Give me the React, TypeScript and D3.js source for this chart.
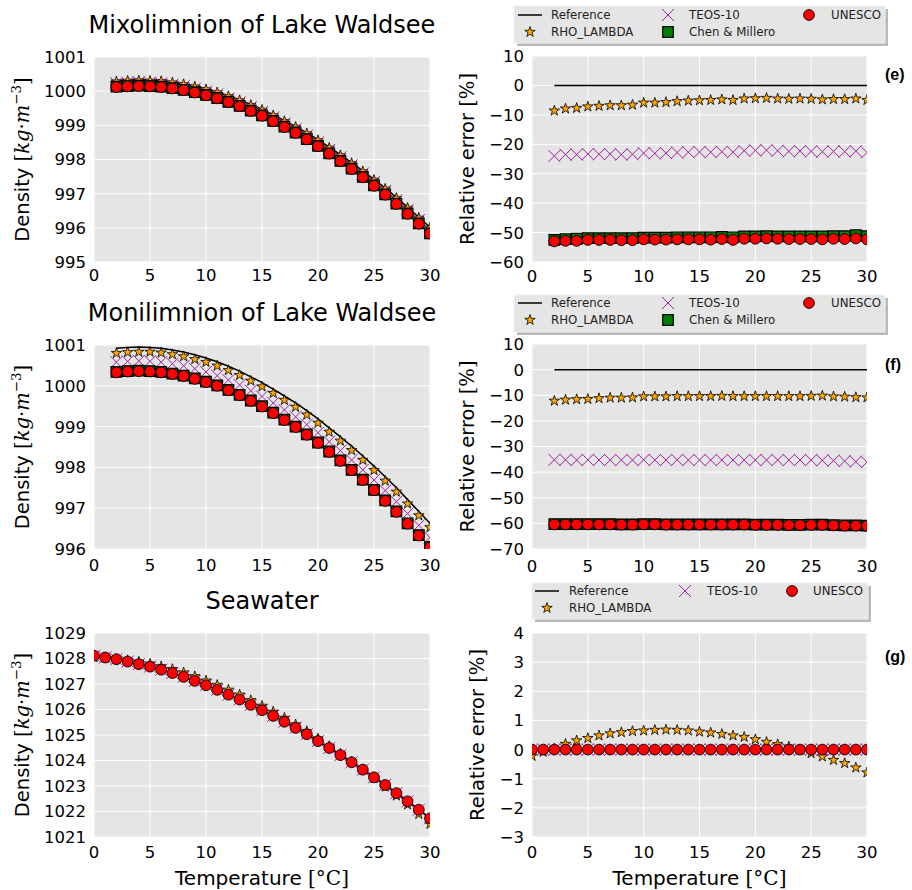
import { useEffect, useRef } from "react"
import * as d3 from "d3"

// temperatures [°C]
const TEMP_LAKE = [2, 3, 4, 5, 6, 7, 8, 9, 10, 11, 12, 13, 14, 15, 16, 17, 18, 19, 20, 21, 22, 23, 24, 25, 26, 27, 28, 29, 30]
const TEMP_SEA = [0, 1, 2, 3, 4, 5, 6, 7, 8, 9, 10, 11, 12, 13, 14, 15, 16, 17, 18, 19, 20, 21, 22, 23, 24, 25, 26, 27, 28, 29, 30]

// Mixolimnion densities [kg/m3]
const MIXO_REF = [1000.31, 1000.33, 1000.34, 1000.33, 1000.31, 1000.27, 1000.22, 1000.15, 1000.07, 999.98, 999.87, 999.75, 999.61, 999.47, 999.31, 999.14, 998.97, 998.78, 998.58, 998.36, 998.14, 997.91, 997.67, 997.42, 997.16, 996.89, 996.6, 996.31, 996.02]
const MIXO_RHO = [1000.28, 1000.3, 1000.31, 1000.3, 1000.29, 1000.25, 1000.2, 1000.13, 1000.05, 999.96, 999.85, 999.73, 999.59, 999.45, 999.29, 999.12, 998.95, 998.76, 998.56, 998.34, 998.12, 997.89, 997.65, 997.4, 997.14, 996.87, 996.58, 996.29, 996.0]
const MIXO_TEOS = [1000.23, 1000.25, 1000.26, 1000.25, 1000.23, 1000.19, 1000.14, 1000.07, 999.99, 999.9, 999.79, 999.67, 999.53, 999.39, 999.23, 999.06, 998.89, 998.7, 998.5, 998.28, 998.06, 997.83, 997.59, 997.34, 997.08, 996.81, 996.52, 996.23, 995.94]
const MIXO_CHEN = [1000.13, 1000.15, 1000.16, 1000.15, 1000.13, 1000.09, 1000.04, 999.97, 999.89, 999.8, 999.69, 999.57, 999.43, 999.29, 999.13, 998.96, 998.79, 998.6, 998.4, 998.18, 997.96, 997.73, 997.49, 997.24, 996.98, 996.71, 996.42, 996.13, 995.84]
const MIXO_UNESCO = [1000.12, 1000.14, 1000.15, 1000.14, 1000.12, 1000.08, 1000.03, 999.96, 999.88, 999.79, 999.68, 999.56, 999.42, 999.28, 999.12, 998.95, 998.78, 998.59, 998.39, 998.17, 997.95, 997.72, 997.48, 997.23, 996.97, 996.7, 996.41, 996.12, 995.83]

// Monilimnion densities [kg/m3]
const MONI_REF = [1000.92, 1000.94, 1000.95, 1000.94, 1000.92, 1000.88, 1000.83, 1000.76, 1000.68, 1000.59, 1000.48, 1000.36, 1000.22, 1000.08, 999.92, 999.75, 999.58, 999.39, 999.19, 998.97, 998.75, 998.52, 998.28, 998.03, 997.77, 997.5, 997.21, 996.92, 996.63]
const MONI_RHO = [1000.8, 1000.82, 1000.83, 1000.83, 1000.81, 1000.77, 1000.72, 1000.65, 1000.58, 1000.49, 1000.38, 1000.26, 1000.12, 999.98, 999.82, 999.65, 999.48, 999.29, 999.09, 998.87, 998.65, 998.42, 998.18, 997.93, 997.67, 997.4, 997.11, 996.82, 996.53]
const MONI_TEOS = [1000.58, 1000.6, 1000.61, 1000.6, 1000.58, 1000.54, 1000.49, 1000.42, 1000.34, 1000.25, 1000.14, 1000.02, 999.88, 999.74, 999.58, 999.41, 999.24, 999.05, 998.85, 998.63, 998.41, 998.18, 997.94, 997.69, 997.43, 997.16, 996.87, 996.58, 996.28]
const MONI_CHEN = [1000.34, 1000.36, 1000.37, 1000.36, 1000.34, 1000.3, 1000.25, 1000.18, 1000.1, 1000.01, 999.9, 999.78, 999.64, 999.5, 999.34, 999.17, 999.0, 998.81, 998.61, 998.39, 998.17, 997.94, 997.7, 997.45, 997.19, 996.92, 996.63, 996.34, 996.05]
const MONI_UNESCO = [1000.33, 1000.35, 1000.36, 1000.35, 1000.33, 1000.29, 1000.24, 1000.17, 1000.09, 1000.0, 999.89, 999.77, 999.63, 999.49, 999.33, 999.16, 998.99, 998.8, 998.6, 998.38, 998.16, 997.93, 997.69, 997.44, 997.18, 996.91, 996.62, 996.33, 996.04]

// Seawater densities [kg/m3]
const SEA_REF = [1028.11, 1028.04, 1027.97, 1027.88, 1027.78, 1027.68, 1027.56, 1027.43, 1027.28, 1027.12, 1026.95, 1026.77, 1026.58, 1026.39, 1026.18, 1025.97, 1025.75, 1025.52, 1025.28, 1025.03, 1024.76, 1024.49, 1024.21, 1023.93, 1023.64, 1023.34, 1023.04, 1022.72, 1022.4, 1022.07, 1021.73]
const SEA_RHO = [1028.05, 1028.02, 1027.98, 1027.93, 1027.87, 1027.79, 1027.69, 1027.58, 1027.45, 1027.3, 1027.13, 1026.96, 1026.77, 1026.58, 1026.36, 1026.14, 1025.91, 1025.67, 1025.41, 1025.15, 1024.86, 1024.56, 1024.26, 1023.96, 1023.63, 1023.3, 1022.97, 1022.62, 1022.27, 1021.9, 1021.51]
const SEA_TEOS = [1028.11, 1028.04, 1027.97, 1027.88, 1027.78, 1027.68, 1027.56, 1027.43, 1027.28, 1027.12, 1026.95, 1026.77, 1026.58, 1026.39, 1026.18, 1025.97, 1025.75, 1025.52, 1025.28, 1025.03, 1024.76, 1024.49, 1024.21, 1023.93, 1023.64, 1023.34, 1023.04, 1022.72, 1022.4, 1022.07, 1021.73]
const SEA_UNESCO = [1028.11, 1028.04, 1027.97, 1027.88, 1027.78, 1027.68, 1027.56, 1027.43, 1027.28, 1027.12, 1026.95, 1026.77, 1026.58, 1026.39, 1026.18, 1025.97, 1025.75, 1025.52, 1025.28, 1025.03, 1024.76, 1024.49, 1024.21, 1023.93, 1023.64, 1023.34, 1023.04, 1022.72, 1022.4, 1022.07, 1021.73]

// relative errors [%]
const LAKE_ERR_REF = [0, 0, 0, 0, 0, 0, 0, 0, 0, 0, 0, 0, 0, 0, 0, 0, 0, 0, 0, 0, 0, 0, 0, 0, 0, 0, 0, 0, 0]
const MIXO_ERR_RHO = [-8.6, -7.9, -7.7, -7.2, -7.0, -6.8, -6.8, -6.6, -5.9, -5.9, -5.7, -5.4, -5.2, -5.1, -5.0, -4.8, -5.0, -4.5, -4.4, -4.3, -4.5, -4.6, -4.5, -4.6, -4.8, -4.7, -4.7, -4.5, -5.0]
const MIXO_ERR_TEOS = [-24.0, -23.5, -23.5, -23.3, -23.4, -23.3, -23.5, -23.4, -23.0, -23.1, -23.0, -22.8, -22.7, -22.6, -22.7, -22.5, -22.7, -22.2, -22.1, -22.0, -22.2, -22.4, -22.3, -22.4, -22.5, -22.4, -22.5, -22.3, -22.8]
const MIXO_ERR_CHEN = [-52.5, -52.2, -52.1, -51.9, -51.9, -51.9, -51.9, -51.9, -51.7, -51.7, -51.7, -51.6, -51.6, -51.6, -51.6, -51.5, -51.6, -51.3, -51.3, -51.2, -51.3, -51.3, -51.3, -51.3, -51.3, -51.2, -51.2, -50.9, -51.2]
const MIXO_ERR_UNESCO = [-53.0, -52.8, -52.8, -52.5, -52.5, -52.5, -52.6, -52.6, -52.3, -52.4, -52.4, -52.3, -52.3, -52.3, -52.4, -52.2, -52.5, -52.1, -52.1, -52.0, -52.1, -52.2, -52.2, -52.2, -52.3, -52.1, -52.2, -52.0, -52.3]
const MONI_ERR_RHO = [-12.2, -11.8, -11.6, -11.5, -11.2, -11.0, -11.0, -10.9, -10.5, -10.5, -10.5, -10.4, -10.4, -10.4, -10.4, -10.3, -10.4, -10.4, -10.4, -10.4, -10.4, -10.4, -10.4, -10.3, -10.2, -10.5, -10.6, -10.8, -10.9]
const MONI_ERR_TEOS = [-35.2, -35.2, -35.3, -35.2, -35.3, -35.3, -35.3, -35.3, -35.2, -35.3, -35.3, -35.2, -35.3, -35.3, -35.3, -35.3, -35.3, -35.3, -35.3, -35.3, -35.3, -35.3, -35.3, -35.3, -35.4, -35.5, -35.7, -35.9, -36.1]
const MONI_ERR_CHEN = [-60.3, -60.3, -60.3, -60.3, -60.3, -60.3, -60.4, -60.4, -60.3, -60.3, -60.4, -60.4, -60.4, -60.4, -60.4, -60.4, -60.4, -60.4, -60.5, -60.5, -60.5, -60.6, -60.6, -60.5, -60.5, -60.7, -60.8, -60.8, -60.9]
const MONI_ERR_UNESCO = [-60.4, -60.4, -60.4, -60.4, -60.4, -60.4, -60.5, -60.5, -60.4, -60.4, -60.5, -60.5, -60.5, -60.5, -60.5, -60.5, -60.5, -60.5, -60.6, -60.6, -60.6, -60.7, -60.7, -60.6, -60.6, -60.8, -60.9, -60.9, -61.0]
const SEA_ERR_REF = [0, 0, 0, 0, 0, 0, 0, 0, 0, 0, 0, 0, 0, 0, 0, 0, 0, 0, 0, 0, 0, 0, 0, 0, 0, 0, 0, 0, 0, 0, 0]
const SEA_ERR_RHO = [-0.22, -0.08, 0.03, 0.19, 0.31, 0.39, 0.48, 0.55, 0.59, 0.63, 0.65, 0.67, 0.68, 0.67, 0.65, 0.61, 0.58, 0.53, 0.48, 0.43, 0.35, 0.26, 0.18, 0.1, -0.02, -0.13, -0.24, -0.36, -0.47, -0.62, -0.79]
const SEA_ERR_TEOS = [0, 0, 0, 0, 0, 0, 0, 0, 0, 0, 0, 0, 0, 0, 0, 0, 0, 0, 0, 0, 0, 0, 0, 0, 0, 0, 0, 0, 0, 0, 0]
const SEA_ERR_UNESCO = [0, 0, 0, 0, 0, 0, 0, 0, 0, 0, 0, 0, 0, 0, 0, 0, 0, 0, 0, 0, 0, 0, 0, 0, 0, 0, 0, 0, 0, 0, 0]

const X_TICKS = [0, 5, 10, 15, 20, 25, 30]

const METHODS = {
  ref: { label: "Reference", kind: "line" },
  rho: { label: "RHO_LAMBDA", kind: "star" },
  teos: { label: "TEOS-10", kind: "x" },
  chen: { label: "Chen & Millero", kind: "square" },
  unesco: { label: "UNESCO", kind: "circle" },
}
const ORDER = ["ref", "rho", "teos", "chen", "unesco"]

const SANS = "'DejaVu Sans', Verdana, sans-serif"
const SERIF = "'DejaVu Serif', 'Liberation Serif', serif"

const panels = [
  {
    x0: 94, x1: 430, y0: 57, y1: 262, yDomain: [995, 1001], yTicks: [995, 996, 997, 998, 999, 1000, 1001],
    temps: TEMP_LAKE, title: "Mixolimnion of Lake Waldsee", titleY: 33, xTickY: 281, label: "density", labelX: 29,
    data: { ref: MIXO_REF, rho: MIXO_RHO, teos: MIXO_TEOS, chen: MIXO_CHEN, unesco: MIXO_UNESCO },
  },
  {
    x0: 532, x1: 867, y0: 56, y1: 262, yDomain: [-60, 10], yTicks: [-60, -50, -40, -30, -20, -10, 0, 10],
    temps: TEMP_LAKE, xTickY: 282, label: "error", labelX: 474, tag: "(e)", tagY: 80,
    data: { ref: LAKE_ERR_REF, rho: MIXO_ERR_RHO, teos: MIXO_ERR_TEOS, chen: MIXO_ERR_CHEN, unesco: MIXO_ERR_UNESCO },
    legend: { box: [514, 6, 371, 37], rows: [15, 32], cols: [[530, 551], [668, 689], [809, 831]], items: [["ref", 0, 0], ["rho", 0, 1], ["teos", 1, 0], ["chen", 1, 1], ["unesco", 2, 0]] },
  },
  {
    x0: 94, x1: 430, y0: 345, y1: 549, yDomain: [996, 1001], yTicks: [996, 997, 998, 999, 1000, 1001],
    temps: TEMP_LAKE, title: "Monilimnion of Lake Waldsee", titleY: 321, xTickY: 571, label: "density", labelX: 29,
    data: { ref: MONI_REF, rho: MONI_RHO, teos: MONI_TEOS, chen: MONI_CHEN, unesco: MONI_UNESCO },
  },
  {
    x0: 532, x1: 867, y0: 344, y1: 549, yDomain: [-70, 10], yTicks: [-70, -60, -50, -40, -30, -20, -10, 0, 10],
    temps: TEMP_LAKE, xTickY: 572, label: "error", labelX: 474, tag: "(f)", tagY: 370,
    data: { ref: LAKE_ERR_REF, rho: MONI_ERR_RHO, teos: MONI_ERR_TEOS, chen: MONI_ERR_CHEN, unesco: MONI_ERR_UNESCO },
    legend: { box: [514, 295, 371, 37], rows: [303, 320], cols: [[530, 551], [668, 689], [809, 831]], items: [["ref", 0, 0], ["rho", 0, 1], ["teos", 1, 0], ["chen", 1, 1], ["unesco", 2, 0]] },
  },
  {
    x0: 94, x1: 430, y0: 633, y1: 837, yDomain: [1021, 1029], yTicks: [1021, 1022, 1023, 1024, 1025, 1026, 1027, 1028, 1029],
    temps: TEMP_SEA, title: "Seawater", titleY: 609, xTickY: 858, label: "density", labelX: 29, xLabel: true,
    data: { ref: SEA_REF, rho: SEA_RHO, teos: SEA_TEOS, unesco: SEA_UNESCO },
  },
  {
    x0: 532, x1: 867, y0: 633, y1: 837, yDomain: [-3, 4], yTicks: [-3, -2, -1, 0, 1, 2, 3, 4],
    temps: TEMP_SEA, xTickY: 858, label: "error", labelX: 484, tag: "(g)", tagY: 662, xLabel: true,
    data: { ref: SEA_ERR_REF, rho: SEA_ERR_RHO, teos: SEA_ERR_TEOS, unesco: SEA_ERR_UNESCO },
    legend: { box: [532, 583, 336, 36], rows: [591, 608], cols: [[547, 569], [685, 707], [792, 813]], items: [["ref", 0, 0], ["rho", 0, 1], ["teos", 1, 0], ["unesco", 2, 0]] },
  },
]

const starPath = d3.symbol(d3.symbolStar, 34)()
const squarePath = d3.symbol(d3.symbolSquare, 112)()

function drawMarker(g, kind, x, y) {
  if (kind === "star") {
    g.append("path").attr("d", starPath).attr("transform", `translate(${x},${y})`)
      .attr("fill", "#ffa500").attr("stroke", "#000").attr("stroke-width", 0.8)
  } else if (kind === "x") {
    g.append("path").attr("d", "M-6,-6L6,6M-6,6L6,-6").attr("transform", `translate(${x},${y})`)
      .attr("fill", "none").attr("stroke", "#a020a0").attr("stroke-width", 1)
  } else if (kind === "square") {
    g.append("path").attr("d", squarePath).attr("transform", `translate(${x},${y})`)
      .attr("fill", "#008000").attr("stroke", "#000").attr("stroke-width", 1.2)
  } else if (kind === "circle") {
    g.append("circle").attr("cx", x).attr("cy", y).attr("r", 5.4)
      .attr("fill", "#ff0000").attr("stroke", "#000").attr("stroke-width", 0.9)
  }
}

const tickText = (t) => (t < 0 ? "\u2212" + Math.abs(t) : String(t))

const App = () => {
  const svgRef = useRef(null)

  useEffect(() => {
    const svg = d3.select(svgRef.current)
    svg.selectAll("*").remove()

    panels.forEach((p, pi) => {
      const x = d3.scaleLinear().domain([0, 30]).range([p.x0, p.x1])
      const y = d3.scaleLinear().domain(p.yDomain).range([p.y1, p.y0])
      const g = svg.append("g")

      g.append("rect").attr("x", p.x0).attr("y", p.y0).attr("width", p.x1 - p.x0).attr("height", p.y1 - p.y0).attr("fill", "#e5e5e5")

      // grid
      X_TICKS.forEach((t) => {
        g.append("line").attr("x1", x(t)).attr("x2", x(t)).attr("y1", p.y0).attr("y2", p.y1).attr("stroke", "#fff").attr("stroke-width", 1)
      })
      p.yTicks.forEach((t) => {
        g.append("line").attr("x1", p.x0).attr("x2", p.x1).attr("y1", y(t)).attr("y2", y(t)).attr("stroke", "#fff").attr("stroke-width", 1)
      })

      // tick labels
      X_TICKS.forEach((t) => {
        g.append("text").attr("x", x(t)).attr("y", p.xTickY).attr("text-anchor", "middle")
          .style("font-family", SANS).style("font-size", "16.5px").attr("fill", "#000").text(tickText(t))
      })
      p.yTicks.forEach((t) => {
        g.append("text").attr("x", p.x0 - 8).attr("y", y(t)).attr("dy", "0.36em").attr("text-anchor", "end")
          .style("font-family", SANS).style("font-size", "16.5px").attr("fill", "#000").text(tickText(t))
      })

      // data
      const clipId = `clip-${pi}`
      svg.append("clipPath").attr("id", clipId).append("rect")
        .attr("x", p.x0).attr("y", p.y0).attr("width", p.x1 - p.x0).attr("height", p.y1 - p.y0)
      const dg = g.append("g").attr("clip-path", `url(#${clipId})`)
      ORDER.forEach((key) => {
        const vals = p.data[key]
        if (!vals) return
        const kind = METHODS[key].kind
        if (kind === "line") {
          const line = d3.line().x((d, i) => x(p.temps[i])).y((d) => y(d))
          dg.append("path").datum(vals).attr("d", line).attr("fill", "none").attr("stroke", "#000").attr("stroke-width", 1.5)
        } else {
          vals.forEach((v, i) => drawMarker(dg, kind, x(p.temps[i]), y(v)))
        }
      })

      // titles
      if (p.title) {
        g.append("text").attr("x", (p.x0 + p.x1) / 2).attr("y", p.titleY).attr("text-anchor", "middle")
          .style("font-family", SANS).style("font-size", "24px").attr("fill", "#000").text(p.title)
      }
      if (p.tag) {
        g.append("text").attr("x", 885).attr("y", p.tagY)
          .style("font-family", "'Liberation Sans', Arial, sans-serif").style("font-size", "16px").style("font-weight", "bold").attr("fill", "#000").text(p.tag)
      }

      // y label
      const cy = (p.y0 + p.y1) / 2
      const yl = g.append("text").attr("transform", `translate(${p.labelX},${cy}) rotate(-90)`).attr("text-anchor", "middle")
        .style("font-size", "19.5px").attr("fill", "#000")
      if (p.label === "density") {
        yl.append("tspan").style("font-family", SANS).text("Density ")
        yl.append("tspan").style("font-family", SERIF).text("[")
        yl.append("tspan").style("font-family", SERIF).style("font-style", "italic").text("kg")
        yl.append("tspan").style("font-family", SERIF).text("·")
        yl.append("tspan").style("font-family", SERIF).style("font-style", "italic").text("m")
        yl.append("tspan").style("font-family", SERIF).style("font-size", "13.5px").attr("dy", -8).text("−3")
        yl.append("tspan").style("font-family", SERIF).attr("dy", 8).text("]")
      } else {
        yl.append("tspan").style("font-family", SANS).text("Relative error ")
        yl.append("tspan").style("font-family", SERIF).text("[%]")
      }

      if (p.xLabel) {
        const xl = g.append("text").attr("x", (p.x0 + p.x1) / 2).attr("y", 885).attr("text-anchor", "middle")
          .style("font-size", "20px").attr("fill", "#000")
        xl.append("tspan").style("font-family", SANS).text("Temperature ")
        xl.append("tspan").style("font-family", SERIF).text("[°C]")
      }

      // legend
      if (p.legend) {
        const L = p.legend
        const [bx, by, bw, bh] = L.box
        g.append("rect").attr("x", bx + 3).attr("y", by + 3).attr("width", bw).attr("height", bh).attr("fill", "#8a8a8a").attr("opacity", 0.6)
        g.append("rect").attr("x", bx).attr("y", by).attr("width", bw).attr("height", bh).attr("fill", "#e5e5e5").attr("stroke", "#f2f2f2").attr("stroke-width", 1)
        L.items.forEach(([key, c, r]) => {
          const [mx, tx] = L.cols[c]
          const ry = L.rows[r]
          const kind = METHODS[key].kind
          if (kind === "line") {
            g.append("line").attr("x1", mx - 12).attr("x2", mx + 12).attr("y1", ry).attr("y2", ry).attr("stroke", "#000").attr("stroke-width", 1.5)
          } else {
            drawMarker(g, kind, mx, ry)
          }
          g.append("text").attr("x", tx).attr("y", ry).attr("dy", "0.36em")
            .style("font-family", SANS).style("font-size", "11.8px").attr("fill", "#222").text(METHODS[key].label)
        })
      }
    })
  }, [])

  return (
    <div style={{ position: "absolute", left: 0, top: 0 }}>
      <svg ref={svgRef} width={912} height={890} style={{ display: "block", background: "#fff" }}></svg>
    </div>
  )
}

export default App
